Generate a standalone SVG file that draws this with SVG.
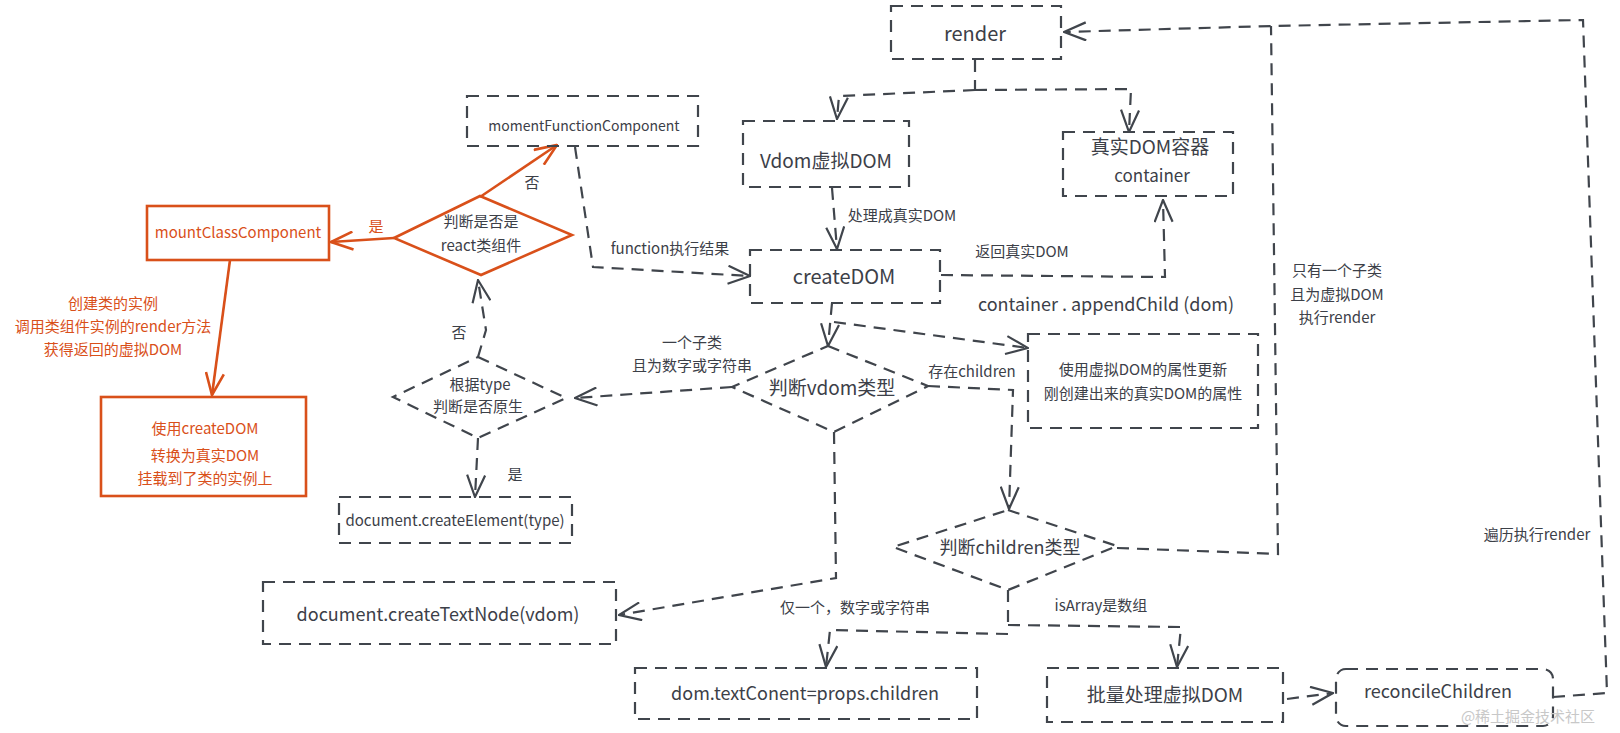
<svg xmlns="http://www.w3.org/2000/svg" width="1620" height="733" viewBox="0 0 1620 733">
<style>
text{font-family:"Noto Sans CJK SC","Noto Sans",sans-serif;fill:#3c4048;text-anchor:middle}
.o text,text.o{fill:#d9501a}
.box{fill:none;stroke:#40454c;stroke-width:2.2;stroke-dasharray:12 8}
.obox{fill:none;stroke:#d9501a;stroke-width:2.6}
.c{fill:none;stroke:#40454c;stroke-width:2.2;stroke-dasharray:12 8;marker-end:url(#ah)}
.cn{fill:none;stroke:#40454c;stroke-width:2.2;stroke-dasharray:12 8}
.oc{fill:none;stroke:#d9501a;stroke-width:2.6;marker-end:url(#oah)}
.s13{font-size:13px}.s14{font-size:14px}.s15{font-size:15px}.s17{font-size:17px}.s18{font-size:18px}.s19{font-size:19px}.s20{font-size:20px}
</style>
<defs>
<marker id="ah" viewBox="0 0 24 20" refX="23" refY="10" markerWidth="24" markerHeight="20" markerUnits="userSpaceOnUse" orient="auto">
<path d="M1,1 L23,10 L1,19" fill="none" stroke="#40454c" stroke-width="2.2"/>
</marker>
<marker id="oah" viewBox="0 0 24 20" refX="23" refY="10" markerWidth="24" markerHeight="20" markerUnits="userSpaceOnUse" orient="auto">
<path d="M1,1 L23,10 L1,19" fill="none" stroke="#d9501a" stroke-width="2.6"/>
</marker>
</defs>
<rect width="1620" height="733" fill="#ffffff"/>

<g id="connectors">
<path class="c" d="M1553,697 L1607,693 L1583,20 L1272,26 L1064,32"/>
<path class="cn" d="M1117,548 L1278,554 L1271,26"/>
<path class="cn" d="M975,60 L975,90"/>
<path class="c" d="M975,90 L839,96 L837,119"/>
<path class="c" d="M975,90 L1131,89 L1129,132"/>
<path class="c" d="M832,188 L837,249"/>
<path class="c" d="M575,147 L593,267 L750,276"/>
<path class="c" d="M941,275 L1165,277 L1163,200"/>
<path class="c" d="M832,303 L828,346"/>
<path class="c" d="M834,322 L1028,348"/>
<path class="c" d="M732,387 L575,398"/>
<path class="c" d="M478,357 L486,330 L478,280"/>
<path class="c" d="M478,438 L475,497"/>
<path class="oc" d="M394,238 L331,242"/>
<path class="oc" d="M480,197 L557,145"/>
<path class="oc" d="M230,260 L212,395"/>
<path class="c" d="M834,432 L836,578 L619,615"/>
<path class="c" d="M928,386 L1013,390 L1009,509"/>
<path class="cn" d="M1008,590 L1008,625"/>
<path class="c" d="M1008,625 L1181,627 L1177,667"/>
<path class="c" d="M1008,634 L830,630 L826,667"/>
<path class="c" d="M1287,699 L1333,693"/>
<text class="s15" x="902" y="221">处理成真实DOM</text>
<text class="s15" x="670" y="254">function执行结果</text>
<text class="s15" x="1022" y="257">返回真实DOM</text>
<text class="s18" x="1106" y="311">container . appendChild (dom)</text>
<text class="s15" x="692" y="348">一个子类</text>
<text class="s15" x="692" y="371">且为数字或字符串</text>
<text class="s15" x="459" y="338">否</text>
<text class="s15" x="515" y="480">是</text>
<text class="s15 o" x="376" y="232">是</text>
<text class="s15" x="532" y="188">否</text>
<text class="s15 o" x="113" y="309">创建类的实例</text>
<text class="s15 o" x="113" y="332">调用类组件实例的render方法</text>
<text class="s15 o" x="113" y="355">获得返回的虚拟DOM</text>
<text class="s15" x="972" y="377">存在children</text>
<text class="s15" x="855" y="613">仅一个，数字或字符串</text>
<text class="s15" x="1101" y="611">isArray是数组</text>
<text class="s15" x="1337" y="276">只有一个子类</text>
<text class="s15" x="1337" y="300">且为虚拟DOM</text>
<text class="s15" x="1337" y="323">执行render</text>
<text class="s15" x="1537" y="540">遍历执行render</text>
</g>

<g id="render">
<rect class="box" x="891" y="6" width="170" height="53"/>
<text class="s20" x="975" y="41">render</text>
</g>
<g id="momentFunctionComponent">
<rect class="box" x="467" y="96" width="231" height="50"/>
<text class="s14" x="584" y="131">momentFunctionComponent</text>
</g>
<g id="vdom">
<rect class="box" x="743" y="121" width="166" height="66"/>
<text class="s19" x="826" y="168">Vdom虚拟DOM</text>
</g>
<g id="container">
<rect class="box" x="1063" y="132" width="170" height="64"/>
<text class="s19" x="1150" y="154">真实DOM容器</text>
<text class="s17" x="1152" y="182">container</text>
</g>
<g id="createDOM">
<rect class="box" x="750" y="250" width="190" height="53"/>
<text class="s20" x="844" y="284">createDOM</text>
</g>
<g id="updateProps">
<rect class="box" x="1028" y="334" width="230" height="94"/>
<text class="s15" x="1143" y="375">使用虚拟DOM的属性更新</text>
<text class="s15" x="1143" y="399">刚创建出来的真实DOM的属性</text>
</g>
<g id="isReactClass" class="o">
<polygon class="obox" points="480,196 572,235 481,275 394,238"/>
<text class="s15" x="481" y="227" style="fill:#3c4048">判断是否是</text>
<text class="s15" x="481" y="251" style="fill:#3c4048">react类组件</text>
</g>
<g id="mountClassComponent" class="o">
<rect class="obox" x="147" y="206" width="182" height="54"/>
<text class="s15" x="238" y="238">mountClassComponent</text>
</g>
<g id="useCreateDOM" class="o">
<rect class="obox" x="101" y="397" width="205" height="99"/>
<text class="s15" x="205" y="434">使用createDOM</text>
<text class="s15" x="205" y="461">转换为真实DOM</text>
<text class="s15" x="205" y="484">挂载到了类的实例上</text>
</g>
<g id="byType">
<polygon class="box" points="478,357 566,398 478,438 393,397"/>
<text class="s15" x="480" y="390">根据type</text>
<text class="s15" x="478" y="412">判断是否原生</text>
</g>
<g id="createElement">
<rect class="box" x="339" y="497" width="233" height="46"/>
<text class="s15" x="455" y="526">document.createElement(type)</text>
</g>
<g id="vdomType">
<polygon class="box" points="828,346 928,386 834,432 732,387"/>
<text class="s19" x="832" y="395">判断vdom类型</text>
</g>
<g id="createTextNode">
<rect class="box" x="263" y="582" width="353" height="62"/>
<text class="s18" x="438" y="621">document.createTextNode(vdom)</text>
</g>
<g id="childrenType">
<polygon class="box" points="1008,510 1117,546 1008,590 893,547"/>
<text class="s18" x="1010" y="554">判断children类型</text>
</g>
<g id="textContent">
<rect class="box" x="635" y="668" width="342" height="51"/>
<text class="s18" x="805" y="700">dom.textConent=props.children</text>
</g>
<g id="batch">
<rect class="box" x="1047" y="668" width="236" height="54"/>
<text class="s19" x="1165" y="702">批量处理虚拟DOM</text>
</g>
<g id="reconcileChildren">
<rect class="box" x="1336" y="669" width="217" height="57" rx="10"/>
<text class="s18" x="1438" y="698">reconcileChildren</text>
</g>
<text x="1528" y="722" style="font-size:15px;fill:#c8c8c8">@稀土掘金技术社区</text>
</svg>
